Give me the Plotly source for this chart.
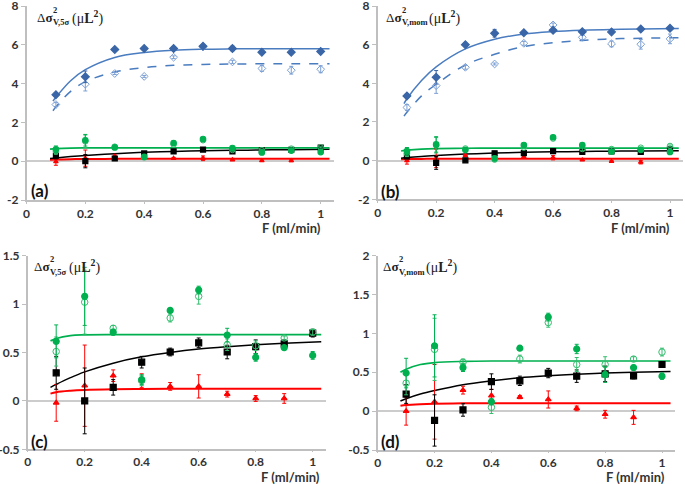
import plotly.graph_objects as go

# ---------------- data ----------------
F = [0.1, 0.2, 0.3, 0.4, 0.5, 0.6, 0.7, 0.8, 0.9, 1.0]
F_red = [0.1, 0.2, 0.3, 0.4, 0.5, 0.6, 0.7, 0.8, 0.9]

# panel (a)/(c): 5-sigma method
a_blue_fill = [3.43, 4.35, 5.76, 5.81, 5.81, 5.93, 5.81, 5.62, 5.62, 5.66]
a_blue_fill_err = [0.1, 0.3, 0.05, 0.05, 0.05, 0.05, 0.12, 0.05, 0.05, 0.05]
a_blue_open = [2.92, 3.97, 4.52, 4.37, 5.36, 5.9, 5.12, 4.78, 4.69, 4.74]
a_blue_open_err = [0.1, 0.35, 0.05, 0.05, 0.07, 0.05, 0.08, 0.15, 0.2, 0.18]
c_green_fill = [0.615, 1.08, 0.71, 0.22, 0.935, 1.145, 0.68, 0.45, 0.55, 0.47]
c_green_fill_err = [0.17, 0.3, 0.03, 0.05, 0.02, 0.04, 0.07, 0.04, 0.02, 0.04]
c_green_open = [0.51, 1.02, 0.75, 0.21, 0.856, 1.08, 0.58, 0.57, 0.65, 0.71]
c_green_open_err = [0.15, 0.33, 0.03, 0.05, 0.04, 0.08, 0.06, 0.05, 0.02, 0.03]
c_black = [0.29, 0.0, 0.14, 0.40, 0.505, 0.60, 0.505, 0.56, 0.59, 0.70]
c_black_err = [0.17, 0.34, 0.08, 0.06, 0.04, 0.05, 0.07, 0.07, 0.04, 0.04]
c_red = [-0.02, 0.157, 0.26, 0.21, 0.15, 0.15, 0.07, 0.025, 0.025]
c_red_err = [0.19, 0.42, 0.06, 0.07, 0.04, 0.12, 0.03, 0.03, 0.05]

# panel (b)/(d): moment method
b_blue_fill = [3.35, 4.31, 6.0, 6.59, 6.62, 6.74, 6.67, 6.66, 6.81, 6.85]
b_blue_fill_err = [0.1, 0.35, 0.05, 0.2, 0.05, 0.05, 0.1, 0.05, 0.05, 0.05]
b_blue_open = [2.75, 3.88, 4.83, 5.0, 6.07, 7.02, 6.38, 6.04, 6.02, 6.3]
b_blue_open_err = [0.15, 0.4, 0.1, 0.05, 0.1, 0.1, 0.12, 0.15, 0.25, 0.25]
d_green_fill = [0.49, 0.84, 0.56, 0.12, 0.81, 1.21, 0.80, 0.47, 0.56, 0.45]
d_green_fill_err = [0.19, 0.4, 0.05, 0.04, 0.03, 0.05, 0.06, 0.1, 0.03, 0.04]
d_green_open = [0.36, 0.795, 0.63, 0.05, 0.67, 1.14, 0.60, 0.60, 0.67, 0.76]
d_green_open_err = [0.15, 0.4, 0.04, 0.08, 0.05, 0.06, 0.09, 0.1, 0.03, 0.05]
d_black = [0.22, -0.12, 0.015, 0.38, 0.39, 0.49, 0.45, 0.48, 0.455, 0.60]
d_black_err = [0.12, 0.33, 0.08, 0.1, 0.06, 0.06, 0.08, 0.1, 0.04, 0.03]
d_red = [0.0, 0.12, 0.27, 0.20, 0.18, 0.15, 0.035, -0.04, -0.08]
d_red_err = [0.18, 0.48, 0.05, 0.08, 0.02, 0.11, 0.03, 0.05, 0.09]

# fitted curves
fit_x_blue = [0.09, 0.1, 0.15, 0.2, 0.3, 0.4, 0.5, 0.6, 0.7, 0.8, 0.9, 1.03]
a_fit_solid = [3.1, 3.3, 4.15, 4.72, 5.35, 5.6, 5.72, 5.77, 5.79, 5.8, 5.8, 5.8]
a_fit_dash = [2.6, 2.8, 3.6, 4.1, 4.6, 4.83, 4.94, 4.99, 5.01, 5.02, 5.02, 5.02]
b_fit_solid = [2.95, 3.2, 4.15, 4.85, 5.78, 6.28, 6.55, 6.68, 6.75, 6.79, 6.81, 6.83]
b_fit_dash = [2.3, 2.5, 3.35, 3.95, 4.95, 5.5, 5.9, 6.1, 6.22, 6.3, 6.33, 6.36]

fit_x = [0.08, 0.1, 0.15, 0.2, 0.3, 0.4, 0.5, 0.6, 0.7, 0.8, 0.9, 1.03]
c_fit_green = [0.62, 0.645, 0.675, 0.683, 0.685, 0.685, 0.685, 0.685, 0.685, 0.685, 0.685, 0.685]
c_fit_black = [0.14, 0.17, 0.24, 0.30, 0.39, 0.455, 0.50, 0.535, 0.56, 0.58, 0.595, 0.61]
c_fit_red = [0.075, 0.09, 0.105, 0.113, 0.12, 0.123, 0.125, 0.125, 0.125, 0.125, 0.125, 0.125]
d_fit_green = [0.50, 0.54, 0.60, 0.625, 0.64, 0.645, 0.645, 0.645, 0.645, 0.645, 0.645, 0.645]
d_fit_black = [0.13, 0.16, 0.22, 0.265, 0.34, 0.39, 0.43, 0.455, 0.475, 0.49, 0.50, 0.51]
d_fit_red = [0.07, 0.08, 0.09, 0.095, 0.1, 0.1, 0.1, 0.1, 0.1, 0.1, 0.1, 0.1]

x_ticks = [0, 0.2, 0.4, 0.6, 0.8, 1]
x_ticktext = ["0", "0.2", "0.4", "0.6", "0.8", "1"]
y_ticks_ab = [-2, 0, 2, 4, 6, 8]
y_ticktext_ab = ["-2", "0", "2", "4", "6", "8"]
y_ticks_c = [-0.5, 0, 0.5, 1, 1.5]
y_ticktext_c = ["-0.5", "0", "0.5", "1", "1.5"]
y_ticks_d = [-0.5, 0, 0.5, 1, 1.5, 2]
y_ticktext_d = ["-0.5", "0", "0.5", "1", "1.5", "2"]

panel_labels = ["(a)", "(b)", "(c)", "(d)"]
x_title = "F (ml/min)"

# ---------------- styling ----------------
W, H = 685, 484
BLUE = "#3a66a7"
BLUE_LINE = "#4a7cc0"
BLUE_OPEN = "#7b9fd4"
GREEN = "#00b050"
GREEN_OPEN = "#33bd6e"
RED = "#ff0000"
BLACK = "#000000"
AX = "#bfbfbf"
TXT = "#333333"
SANS = "Lato, Open Sans, sans-serif"
SERIF = "Liberation Serif, DejaVu Serif, serif"

fig = go.Figure()


def px_x(p):
    return p / W


def px_y(p):
    return 1 - p / H


panels = {
    1: dict(x0=26.5, ppu=294.2, yt=6, yb=200, yr=[-2, 8], tv=y_ticks_ab, tt=y_ticktext_ab, tl=2),
    2: dict(x0=377.7, ppu=292.3, yt=6, yb=199.3, yr=[-2, 8], tv=y_ticks_ab, tt=y_ticktext_ab, tl=2),
    3: dict(x0=27.7, ppu=285.0, yt=255.7, yb=449.3, yr=[-0.5, 1.5], tv=y_ticks_c, tt=y_ticktext_c, tl=1),
    4: dict(x0=377.7, ppu=284.3, yt=255.7, yb=450.0, yr=[-0.5, 2], tv=y_ticks_d, tt=y_ticktext_d, tl=1),
}
XMAX = 1.045

for k, p in panels.items():
    xa = "xaxis" if k == 1 else f"xaxis{k}"
    ya = "yaxis" if k == 1 else f"yaxis{k}"
    fig.update_layout(**{
        xa: dict(
            domain=[px_x(p["x0"]), px_x(p["x0"] + XMAX * p["ppu"])],
            range=[0, XMAX], anchor=f"y{'' if k == 1 else k}", automargin=False,
            tickvals=x_ticks, ticktext=x_ticktext, ticklabeloverflow="allow",
            showgrid=False, zeroline=False, showline=True, linecolor=AX, linewidth=1.5,
            ticks="outside", ticklen=p["tl"], tickcolor=AX,
            tickfont=dict(family=SANS, size=12, color=TXT, weight="bold"),
        ),
        ya: dict(
            domain=[px_y(p["yb"]), px_y(p["yt"])],
            range=p["yr"], anchor=f"x{'' if k == 1 else k}", automargin=False,
            tickvals=p["tv"], ticktext=p["tt"], ticklabeloverflow="allow",
            showgrid=False, zeroline=True, zerolinecolor="#cccccc", zerolinewidth=2,
            showline=True, linecolor=AX, linewidth=1.5,
            ticks="outside", ticklen=4, tickcolor=AX,
            tickfont=dict(family=SANS, size=12, color=TXT, weight="bold"),
        ),
    })


def add_line(k, x, y, color, dash="solid", width=1.6):
    fig.add_trace(go.Scatter(
        x=x, y=y, mode="lines", line=dict(color=color, width=width, dash=dash, shape="spline"),
        xaxis="x" if k == 1 else f"x{k}", yaxis="y" if k == 1 else f"y{k}",
        showlegend=False, hoverinfo="skip"))


def add_pts(k, x, y, err, symbol, color, size, lw=1.2):
    fig.add_trace(go.Scatter(
        x=x, y=y, mode="markers",
        marker=dict(symbol=symbol, color=color, size=size, line=dict(color=color, width=lw)),
        error_y=dict(type="data", array=err, color=color, thickness=1, width=2),
        xaxis="x" if k == 1 else f"x{k}", yaxis="y" if k == 1 else f"y{k}",
        showlegend=False))


sets = {
    1: (a_blue_fill, a_blue_fill_err, a_blue_open, a_blue_open_err, a_fit_solid, a_fit_dash,
        c_green_fill, c_green_fill_err, c_green_open, c_green_open_err, c_black, c_black_err,
        c_red, c_red_err, c_fit_green, c_fit_black, c_fit_red),
    2: (b_blue_fill, b_blue_fill_err, b_blue_open, b_blue_open_err, b_fit_solid, b_fit_dash,
        d_green_fill, d_green_fill_err, d_green_open, d_green_open_err, d_black, d_black_err,
        d_red, d_red_err, d_fit_green, d_fit_black, d_fit_red),
}
sets[3] = (None,) * 6 + sets[1][6:]
sets[4] = (None,) * 6 + sets[2][6:]

for k in (1, 2, 3, 4):
    (bf, bfe, bo, boe, fs, fd, gf, gfe, go_, goe, bk, bke, rd, rde, fg, fb, fr) = sets[k]
    big = k in (1, 2)
    add_line(k, fit_x, fr, RED, width=2.0)
    add_line(k, fit_x, fb, BLACK, width=1.5)
    add_line(k, fit_x, fg, GREEN, width=1.7)
    if big:
        add_line(k, fit_x_blue, fs, BLUE_LINE, width=1.5)
        add_line(k, fit_x_blue, fd, BLUE_LINE, dash="dash", width=1.5)
    add_pts(k, F_red, rd, rde, "triangle-up", RED, 4 if big else 5)
    add_pts(k, F, bk, bke, "square", BLACK, 5 if big else 6)
    add_pts(k, F, go_, goe, "circle-open", GREEN_OPEN, 5.5 if big else 6.5, lw=1)
    add_pts(k, F, gf, gfe, "circle", GREEN, 5.5 if big else 6)
    if big:
        add_pts(k, F, bo, boe, "diamond-open", BLUE_OPEN, 6, lw=1)
        add_pts(k, F, bf, bfe, "diamond", BLUE, 6)

# ---------------- annotations ----------------
ann = []


def A(x, y, text, size, xanchor="left", yanchor="middle", family=SERIF, color="#222222"):
    ann.append(dict(x=px_x(x), y=px_y(y), xref="paper", yref="paper", text=text, showarrow=False,
                    xanchor=xanchor, yanchor=yanchor, align="left", borderpad=0,
                    font=dict(family=family, size=size, color=color)))


# (x of Δσ, y centre, subscript, subscript width)
ytitles = {
    1: (36.0, 17, "V,5σ", 17.5),
    2: (384.5, 17, "V,mom", 26.0),
    3: (33.0, 266.5, "V,5σ", 17.5),
    4: (382.0, 266.5, "V,mom", 26.0),
}
for k, (x0, yc, sub, wsub) in ytitles.items():
    xs = x0 + 16
    A(x0, yc, "Δ<b>σ</b>", 13)
    A(xs, yc - 1.5, "<b>2</b>", 8.5, yanchor="bottom")
    A(xs, yc - 0.5, f"<b>{sub}</b>", 8.5, yanchor="top")
    A(xs + wsub + 1, yc, "(μ<b>L</b><sup><b>2</b></sup>)", 14)

# panel labels
for (x, y), lab in zip([(30, 190), (380.5, 191), (29.5, 441), (380.5, 441)], panel_labels):
    A(x, y, f"<b>{lab}</b>", 17, family=SANS, color="#111111")

# x-axis titles
for x, y in [(322, 227.5), (671, 227.5), (321, 476.5), (666, 477)]:
    A(x, y, f"<b>{x_title}</b>", 13, xanchor="right", family=SANS, color=TXT)

fig.update_layout(
    width=W, height=H, margin=dict(l=0, r=0, t=0, b=0),
    paper_bgcolor="white", plot_bgcolor="white",
    annotations=ann, showlegend=False,
)

fig.write_html("out.html", config={"displayModeBar": False},
               post_script="document.body.style.margin='0';document.body.style.overflow='hidden';")
